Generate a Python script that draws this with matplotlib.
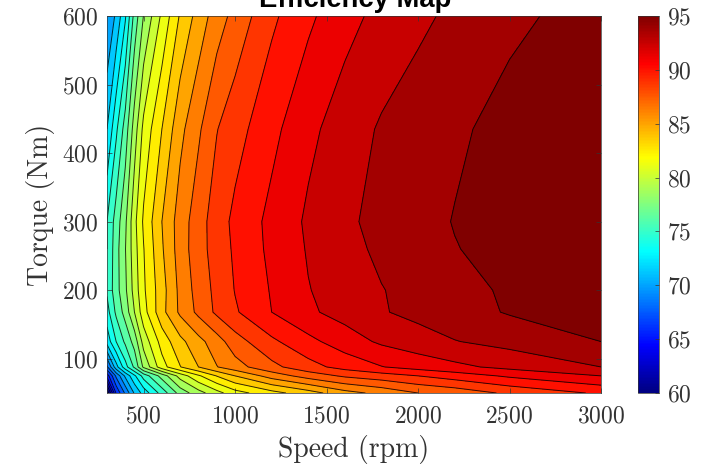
import numpy as np
import matplotlib
matplotlib.use('Agg')
import matplotlib.pyplot as plt
from matplotlib.colors import LinearSegmentedColormap, Normalize
from matplotlib.cm import ScalarMappable

speed = [300, 350, 400, 450, 500, 600, 700, 800, 900, 1000, 1200, 1400, 1600, 1800, 2000, 2200, 2500, 3000]
torque = [50, 75, 88, 125, 168, 200, 260, 300, 435, 600]

eff_50 = [60.0, 66.4, 69.0, 71.4, 73.0, 75.5, 78.0, 79.5, 80.8, 82.0, 83.3, 84.45, 85.8, 86.6, 87.5, 87.95, 89.0, 90.2]
eff_75 = [65.5, 69.0, 71.5, 73.5, 75.5, 78.0, 80.5, 82.3, 83.8, 85.0, 86.8, 88.05, 88.95, 89.45, 90.0, 90.6, 91.45, 92.5]
eff_88 = [68.5, 72.0, 74.5, 76.5, 79.0, 82.0, 83.7, 85.0, 86.2, 87.0, 88.4, 89.55, 90.45, 91.2, 91.75, 92.2, 92.85, 93.75]
eff_125 = [73.0, 75.0, 76.5, 78.0, 80.5, 83.0, 84.65, 85.85, 86.95, 88.2, 89.75, 90.9, 91.9, 92.7, 93.2, 93.7, 94.15, 95.0]
eff_168 = [74.5, 76.5, 78.0, 80.0, 82.0, 84.6, 86.5, 87.8, 89.0, 89.85, 91.25, 92.3, 92.95, 93.65, 94.1, 94.5, 95.1, 95.8]
eff_200 = [75.2, 77.0, 78.5, 80.5, 82.3, 84.5, 86.6, 88.0, 89.1, 90.05, 91.35, 92.45, 93.05, 93.7, 94.15, 94.55, 95.2, 95.9]
eff_260 = [75.0, 77.0, 78.7, 80.75, 82.45, 84.85, 86.85, 88.25, 89.3, 90.2, 91.55, 92.6, 93.35, 94.0, 94.45, 94.95, 95.4, 96.0]
eff_300 = [75.0, 76.8, 78.5, 80.9, 82.7, 85.0, 86.85, 88.2, 89.4, 90.3, 91.6, 92.7, 93.5, 94.15, 94.6, 95.05, 95.5, 96.1]
eff_435 = [72.5, 74.75, 76.8, 79.35, 81.6, 83.75, 85.9, 87.3, 88.7, 89.5, 90.9, 92.2, 93.1, 93.9, 94.35, 94.8, 95.4, 96.0]
eff_600 = [70.0, 71.5, 73.6, 76.7, 78.8, 81.5, 83.9, 85.5, 86.9, 87.9, 89.75, 91.0, 92.1, 92.85, 93.5, 94.0, 94.75, 95.5]

cbar_ticks = [60, 65, 70, 75, 80, 85, 90, 95]

plt.rcParams['font.family'] = ['cmr10', 'DejaVu Serif']
plt.rcParams['axes.formatter.use_mathtext'] = True
plt.rcParams['axes.unicode_minus'] = False

# matlab style jet, matplotlib's own is a bit different
jet = LinearSegmentedColormap('matlab_jet', {
    'red': [(0, 0, 0), (0.375, 0, 0), (0.625, 1, 1), (0.875, 1, 1), (1, 0.5, 0.5)],
    'green': [(0, 0, 0), (0.125, 0, 0), (0.375, 1, 1), (0.625, 1, 1), (0.875, 0, 0), (1, 0, 0)],
    'blue': [(0, 0.5, 0.5), (0.125, 1, 1), (0.375, 1, 1), (0.625, 0, 0), (1, 0, 0)],
}, N=256)
norm = Normalize(60, 95)

eff = np.array([eff_50, eff_75, eff_88, eff_125, eff_168, eff_200, eff_260, eff_300, eff_435, eff_600])
levels = np.linspace(60, 95, 29)
bands = np.append(levels, 97)
band_colors = [jet(norm(v)) for v in levels]

W, H = 712, 465
fig = plt.figure(figsize=(W / 100, H / 100), dpi=100)
ax = fig.add_axes([107 / W, 1 - 393 / H, 494 / W, 377 / H])
cax = fig.add_axes([638 / W, 1 - 393 / H, 21 / W, 377 / H])

ax.contourf(speed, torque, eff, levels=bands, colors=band_colors)
ax.contour(speed, torque, eff, levels=levels, colors='k', linewidths=0.7, alpha=0.8)
ax.set_xlim(300, 3000)
ax.set_ylim(50, 600)
ax.set_xticks([500, 1000, 1500, 2000, 2500, 3000])
ax.set_yticks([100, 200, 300, 400, 500, 600])
ax.tick_params(direction='in', length=3.5, width=0.5, top=True, right=True,
               labelsize=17, colors='#333333', pad=6)
ax.tick_params(axis='x', pad=9)
ax.set_xlabel('Speed (rpm)', fontsize=20, color='#333333', labelpad=5)
ax.set_ylabel('Torque (Nm)', fontsize=20, color='#333333', labelpad=5)
fig.text(355 / W, 1 - 7 / H, 'Efficiency Map', family='Liberation Sans', fontweight='bold',
         fontsize=19.7, ha='center', va='baseline', color='k')

cb = fig.colorbar(ScalarMappable(norm=norm, cmap=jet), cax=cax, ticks=cbar_ticks)
cb.ax.tick_params(direction='in', length=3, width=0.5, labelsize=17, colors='#333333', pad=6)
cb.outline.set_linewidth(0.5)
cb.outline.set_edgecolor('#333333')
for s in ax.spines.values():
    s.set_linewidth(0.5)
    s.set_edgecolor('#333333')

fig.savefig('out.png', dpi=100)
